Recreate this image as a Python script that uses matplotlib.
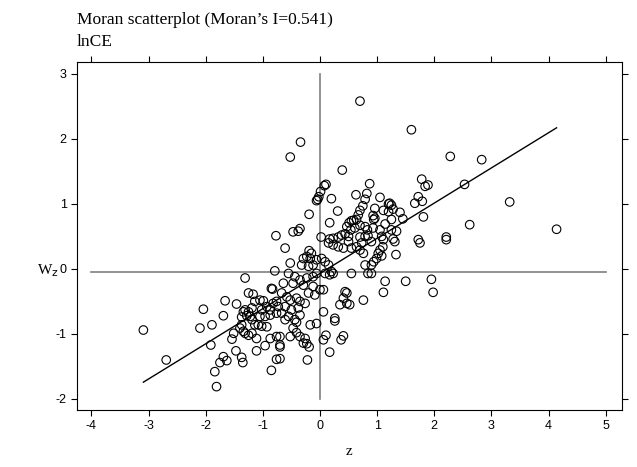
import matplotlib
matplotlib.use("Agg")
import matplotlib.pyplot as plt
import numpy as np

# points (z, Wz)
z = [0.70, 1.60, -0.34, -0.52, 2.28, 2.83, 2.53, 3.32, 2.62, 4.14, -3.09, -2.69,
     -0.77,
     0.39, 0.105, 0.076, 0.87, 0.01, -0.02, -0.06, -0.04, 0.20, 0.63, 0.82, 0.79,
     0.75, 0.70, 0.67, 0.31, -0.19, 0.17, 0.55, 0.51, 0.59, 0.64, 0.47, 0.54,
     0.61, 0.70, 0.79, 0.83, -0.47, -0.38, -0.35, 0.02, 0.38, 0.32, 0.44, 0.50,
     0.17, 0.23, 0.70, 0.79, 0.84,
     1.78, 1.84, 1.89, 1.05, 1.72, 1.66, 1.79, 1.20, 1.25, 1.22, 0.96, 1.11,
     1.28, 1.40, 0.93, 0.96, 0.94, 1.20, 1.25, 1.45, 1.81, 1.14, 0.93, 1.05,
     1.25, 1.34, 1.08, 1.28, 1.72, 2.21,
     -0.79, -1.31, -0.85, -0.83, -1.25, -1.17, -1.66, -2.04, -1.69,
     -1.46, -1.34, -1.31, -1.25, -1.19, -1.14, -1.05, -0.99, -0.93, -1.02, -0.87,
     -0.82, -0.76, -0.73, -0.76, -0.87, -0.96, -1.05, -1.22, -1.28, -1.37,
     -0.61, 0.15, 0.23, 0.32, 0.41, 0.50, 0.55, 0.64, 0.73, 0.70, 0.76,
     -0.19, -0.15, -0.23, -0.29, -0.17, -0.06, 0.03, 0.09,
     -0.52, -0.32, -0.20, -0.12,
     0.15, 0.20, 0.23, 0.17, 0.09, 0.55, 0.79, 0.84,
     -0.55, -0.44, -0.35, -0.23, -0.12, -0.06,
     -0.64, -0.47, -0.29, -0.12, 0.00, 0.06, -0.09, -0.20,
     0.44, 0.47, 0.41, 0.47, 0.52, 0.35, 0.76,
     -0.67, -0.58, -0.52, -0.41, -0.35, -0.26, -0.61, -0.50, -0.38, -0.67, -0.55,
     -0.35, -0.44, 0.06, 0.26,
     0.90, 1.11, 1.31, 1.75, 2.21,
     1.10, 1.05, 1.02, 1.08, 0.99, 0.94, 0.90, 1.33,
     0.90, 1.14, 1.50, 1.95, 1.11, 1.98,
     -2.10, -1.89, -1.37, -1.40, -1.34, -1.31, -1.19, -1.14, -1.08, -1.02, -0.93,
     -1.51, -1.54, -1.25, -1.19, -1.11, -0.87, -0.76, -0.70, -1.91, -0.96, -1.47,
     -1.11, -1.69, -1.75, -1.63, -1.37, -1.35, -0.76, -1.84, -0.85, -1.81,
     -0.61, -0.41, -0.47, -0.41, -0.52, -0.35, -0.26, -0.29, -0.23, -0.19,
     -0.70, -0.70, -0.70, -0.17, -0.06, 0.26, -0.22, 0.105, 0.06, 0.41, 0.37, 0.17]
wz = [2.58, 2.14, 1.95, 1.72, 1.73, 1.68, 1.30, 1.03, 0.68, 0.61, -0.94, -1.40,
      0.51,
      1.52, 1.30, 1.28, 1.31, 1.19, 1.11, 1.05, 1.07, 1.08, 1.14, 1.16, 1.07,
      0.97, 0.90, 0.83, 0.89, 0.84, 0.71, 0.74, 0.71, 0.75, 0.76, 0.65, 0.60,
      0.63, 0.67, 0.65, 0.60, 0.57, 0.58, 0.62, 0.49, 0.52, 0.49, 0.54, 0.50,
      0.46, 0.47, 0.49, 0.50, 0.51,
      1.38, 1.27, 1.29, 1.10, 1.11, 1.01, 1.04, 1.00, 0.98, 1.01, 0.93, 0.90,
      0.92, 0.87, 0.82, 0.78, 0.76, 0.88, 0.76, 0.77, 0.80, 0.69, 0.63, 0.60,
      0.60, 0.58, 0.50, 0.46, 0.45, 0.49,
      -0.03, -0.14, -0.30, -0.31, -0.37, -0.39, -0.49, -0.62, -0.72,
      -0.54, -0.66, -0.63, -0.66, -0.60, -0.50, -0.48, -0.49, -0.58, -0.63, -0.63,
      -0.53, -0.50, -0.58, -0.68, -0.71, -0.73, -0.73, -0.73, -0.72, -0.74,
      0.32, 0.40, 0.37, 0.34, 0.32, 0.42, 0.32, 0.34, 0.40, 0.29, 0.24,
      0.28, 0.24, 0.19, 0.16, 0.16, 0.14, 0.16, 0.11,
      0.09, 0.06, 0.04, 0.06,
      0.06, -0.04, -0.07, -0.09, -0.07, -0.07, 0.06, -0.07,
      -0.07, -0.12, -0.17, -0.14, -0.12, -0.07,
      -0.22, -0.22, -0.25, -0.27, -0.32, -0.32, -0.40, -0.37,
      -0.35, -0.37, -0.45, -0.53, -0.55, -0.55, -0.48,
      -0.37, -0.43, -0.48, -0.45, -0.50, -0.53, -0.58, -0.63, -0.60, -0.68, -0.73,
      -0.71, -0.78, -0.66, -0.76,
      0.42, 0.45, 0.42, 0.40, 0.45,
      0.34, 0.29, 0.24, 0.20, 0.16, 0.11, 0.06, 0.22,
      -0.07, -0.19, -0.19, -0.16, -0.36, -0.36,
      -0.91, -0.86, -0.86, -0.91, -0.96, -0.99, -0.78, -0.86, -0.86, -0.88, -0.89,
      -0.99, -1.08, -1.02, -0.99, -1.07, -1.07, -1.04, -1.17, -1.17, -1.18, -1.26,
      -1.26, -1.35, -1.44, -1.41, -1.36, -1.44, -1.39, -1.58, -1.56, -1.81,
      -0.78, -0.82, -0.91, -0.98, -1.04, -1.04, -1.07, -1.14, -1.15, -1.20,
      -1.04, -1.20, -1.38, -0.86, -0.84, -0.80, -1.40, -1.02, -1.09, -1.03, -1.09, -1.28]

moran_i = 0.541        # slope of the fitted line
fit_intercept = -0.07
wz_mean = -0.05        # level of the horizontal reference line
x_ticks = list(range(-4, 6))
y_ticks = list(range(-2, 4))

plt.rcParams['font.family'] = 'Liberation Sans'
plt.rcParams['axes.unicode_minus'] = False

fig = plt.figure(figsize=(6.37, 4.67), dpi=100)
ax = fig.add_axes([0.121, 0.122, 0.855, 0.745])

ax.scatter(z, wz, s=38, facecolors='none', edgecolors='black', linewidths=0.8, zorder=3)
ax.plot([x_ticks[0], x_ticks[-1]], [wz_mean, wz_mean], color='#7f7f7f', lw=1.2, zorder=2)
ax.plot([0, 0], [y_ticks[0], y_ticks[-1]], color='#7f7f7f', lw=1.2, zorder=2)
zs = np.array([min(z), max(z)])
ax.plot(zs, fit_intercept + moran_i * zs, color='black', lw=1, zorder=4)

ax.set_xlim(-4.25, 5.28)
ax.set_ylim(-2.17, 3.18)
ax.set_xticks(x_ticks)
ax.set_yticks(y_ticks)
ax.tick_params(direction='out', length=4, width=0.8, labelsize=9, colors='black',
               top=True, right=True)
for s in ax.spines.values():
    s.set_linewidth(0.8)

ax.set_xlabel('z', family='Liberation Serif', fontsize=11, labelpad=9)
ax.set_ylabel('W$_\\mathrm{z}$', family='Liberation Serif', fontsize=11, rotation=0,
              va='center', ha='right')
ax.yaxis.set_label_coords(-0.033, 0.40)

fig.text(77 / 637, 1 - 20 / 467, 'Moran scatterplot (Moran\u2019s I=0.541)',
         family='Liberation Serif', fontsize=12.5, va='center', ha='left')
fig.text(77 / 637, 1 - 42 / 467, 'lnCE', family='Liberation Serif', fontsize=12.5,
         va='center', ha='left')

fig.savefig('out.png', dpi=100)
